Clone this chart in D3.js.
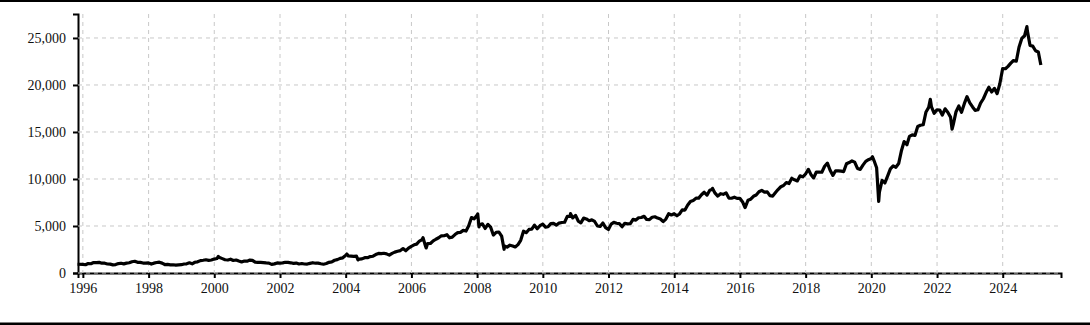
<!DOCTYPE html>
<html>
<head>
<meta charset="utf-8">
<script src="https://cdn.jsdelivr.net/npm/d3@7"></script>
<style>
  body { margin: 0; background: #fff; }
  svg { display: block; }
  .tick text { font-family: "Liberation Serif", "Times New Roman", serif; font-size: 14px; fill: #111; }
</style>
</head>
<body>
<div id="viz"></div>
<script>
// monthly closes, starting Nov 1995
var firstMonth = "1995-11";
var closes = [
  930, 908,
  880, 1010, 985, 1110, 1100, 1130, 1040, 1040, 960, 940, 870, 900,
  1000, 1040, 970, 1050, 1090, 1200, 1250, 1140, 1130, 1060, 1050, 1080,
  950, 1050, 1120, 1150, 1050, 900, 920, 870, 880, 840, 870, 885,
  960, 980, 1080, 980, 1140, 1190, 1320, 1360, 1410, 1340, 1380, 1480,
  1540, 1650, 1530, 1410, 1380, 1470, 1330, 1380, 1270, 1170, 1270, 1260,
  1370, 1350, 1150, 1125, 1130, 1105, 1070, 1050, 915, 970, 1070, 1060,
  1075, 1140, 1130, 1085, 1030, 1060, 960, 1010, 960, 950, 1020, 1095,
  1040, 1050, 980, 935, 1005, 1135, 1185, 1355, 1420, 1555, 1615, 1880,
  1810, 1800, 1770, 1795, 1485, 1505, 1630, 1630, 1745, 1785, 1960, 2080,
  2060, 2100, 2035, 1900, 2090, 2220, 2310, 2385, 2600, 2370, 2650, 2840,
  3000, 3075, 3400, 3560, 3070, 3130, 3140, 3415, 3590, 3745, 3955, 3965,
  4080, 3745, 3820, 4090, 4300, 4320, 4530, 4465, 5020, 5900, 5760, 6140,
  5140, 5225, 4735, 5165, 4870, 4040, 4330, 4360, 3920, 2885, 2755, 2960,
  2875, 2765, 3020, 3475, 4450, 4290, 4635, 4660, 5085, 4710, 5030, 5200,
  4880, 4920, 5250, 5280, 5085, 5310, 5370, 5400, 6030, 6020, 5860, 6135,
  5505, 5335, 5835, 5750, 5560, 5650, 5480, 5000, 4945, 5325, 4830, 4625,
  5200, 5385, 5295, 5250, 4925, 5280, 5230, 5260, 5700, 5620, 5880, 5905,
  6035, 5695, 5680, 5930, 5985, 5840, 5740, 5470, 5735, 6300, 6175, 6305,
  6090, 6275, 6705, 6695, 7230, 7610, 7720, 7955, 7965, 8320, 8590, 8280,
  8810, 8900, 8490, 8180, 8435, 8370, 8530, 7970, 7950, 8065, 7935, 7945,
  7560, 6985, 7740, 7850, 8160, 8290, 8640, 8790, 8610, 8625, 8225, 8185,
  8560, 8880, 9175, 9305, 9620, 9520, 10075, 9915, 9790, 10335, 10225, 10530,
  11030, 10490, 10115, 10740, 10735, 10715, 11355, 11680, 10930, 10385, 10875, 10860,
  10830, 10790, 11625, 11750, 11920, 11790, 11120, 11025, 11475, 11875, 12055, 12170,
  11960, 11200, 8600, 9860, 9580, 10300, 11075, 11390, 11250, 11640, 12970, 13980,
  13635, 14530, 14690, 14630, 15580, 15720, 15765, 17130, 17620, 17670, 16985, 17355,
  17340, 16795, 17465, 17100, 16585, 15780, 17160, 17760, 17095, 18010, 18760, 18105,
  17660, 17300, 17360, 18065, 18535, 19190, 19755, 19255, 19640, 19080, 20135, 21730,
  21725, 21980, 22325, 22605, 22530, 24010, 24950, 25235, 25810, 24205, 24130, 23645,
  23510, 22125
];
// intra-month highs and lows
var extremeDates = ["2000-02-15", "2004-01-14", "2004-05-17", "2006-05-10", "2006-06-14",
  "2008-01-08", "2008-01-22", "2008-10-27", "2010-11-05", "2015-03-03", "2016-02-26",
  "2020-01-14", "2020-03-23", "2021-10-18", "2022-06-17", "2024-09-26"];
var extremeValues = [1756, 2014, 1388, 3755, 2663,
  6288, 4900, 2524, 6312, 9000, 6970,
  12362, 7610, 18477, 15294, 26216];
var yTicks = [0, 5000, 10000, 15000, 20000, 25000];

var width = 1090, height = 325,
    margin = {top: 14, right: 29, bottom: 52, left: 78};

var parseMonth = d3.timeParse("%Y-%m"),
    parseDay = d3.timeParse("%Y-%m-%d");

var data = closes.map(function(v, i) {
  // month-end point
  var d = d3.timeMonth.offset(parseMonth(firstMonth), i + 1);
  return {date: d3.timeDay.offset(d, -1), value: v};
});
extremeDates.forEach(function(s, i) {
  data.push({date: parseDay(s), value: extremeValues[i]});
});
data.sort(function(a, b) { return a.date - b.date; });
data[0].date = parseDay("1995-11-03");

var x = d3.scaleTime()
  .domain([parseDay("1995-11-08"), parseDay("2025-10-10")])
  .range([margin.left, width - margin.right]);
var y = d3.scaleLinear()
  .domain([0, 27550])
  .range([height - margin.bottom, margin.top]);

var svg = d3.select("#viz").append("svg")
  .attr("width", width)
  .attr("height", height);

// frame lines top and bottom
svg.append("rect").attr("x", 0).attr("y", 0).attr("width", width).attr("height", 2).attr("fill", "#000");
svg.append("rect").attr("x", 0).attr("y", height - 2.5).attr("width", width).attr("height", 2.5).attr("fill", "#000");

var xAxis = svg.append("g")
  .attr("transform", "translate(0," + (height - margin.bottom) + ")")
  .call(d3.axisBottom(x).ticks(d3.timeYear.every(2)).tickFormat(d3.timeFormat("%Y")).tickSizeOuter(0).tickSize(5).tickPadding(5));
var yAxis = svg.append("g")
  .attr("transform", "translate(" + margin.left + ",0)")
  .call(d3.axisLeft(y).tickValues(yTicks).tickFormat(d3.format(",")).tickSizeOuter(0).tickSize(5).tickPadding(7));
svg.selectAll(".domain").attr("stroke", "#000").attr("stroke-width", 2);
svg.selectAll(".tick line").attr("stroke", "#000").attr("stroke-width", 2);

// grid
var grid = svg.append("g").attr("stroke", "#c8c8c8").attr("stroke-width", 1).attr("stroke-dasharray", "4,4");
grid.selectAll(".hgrid")
  .data(yTicks)
  .enter()
  .append("line")
    .attr("x1", margin.left)
    .attr("x2", width - margin.right)
    .attr("y1", function(d) { return y(d); })
    .attr("y2", function(d) { return y(d); });
grid.selectAll(".vgrid")
  .data(x.ticks(d3.timeYear.every(2)))
  .enter()
  .append("line")
    .attr("x1", function(d) { return x(d); })
    .attr("x2", function(d) { return x(d); })
    .attr("y1", margin.top)
    .attr("y2", height - margin.bottom);

var line = d3.line()
  .x(function(d) { return x(d.date); })
  .y(function(d) { return y(d.value); });

svg.append("path")
  .datum(data)
  .attr("fill", "none")
  .attr("stroke", "#000")
  .attr("stroke-width", 3.2)
  .attr("stroke-linejoin", "round")
  .attr("d", line);
</script>
</body>
</html>
